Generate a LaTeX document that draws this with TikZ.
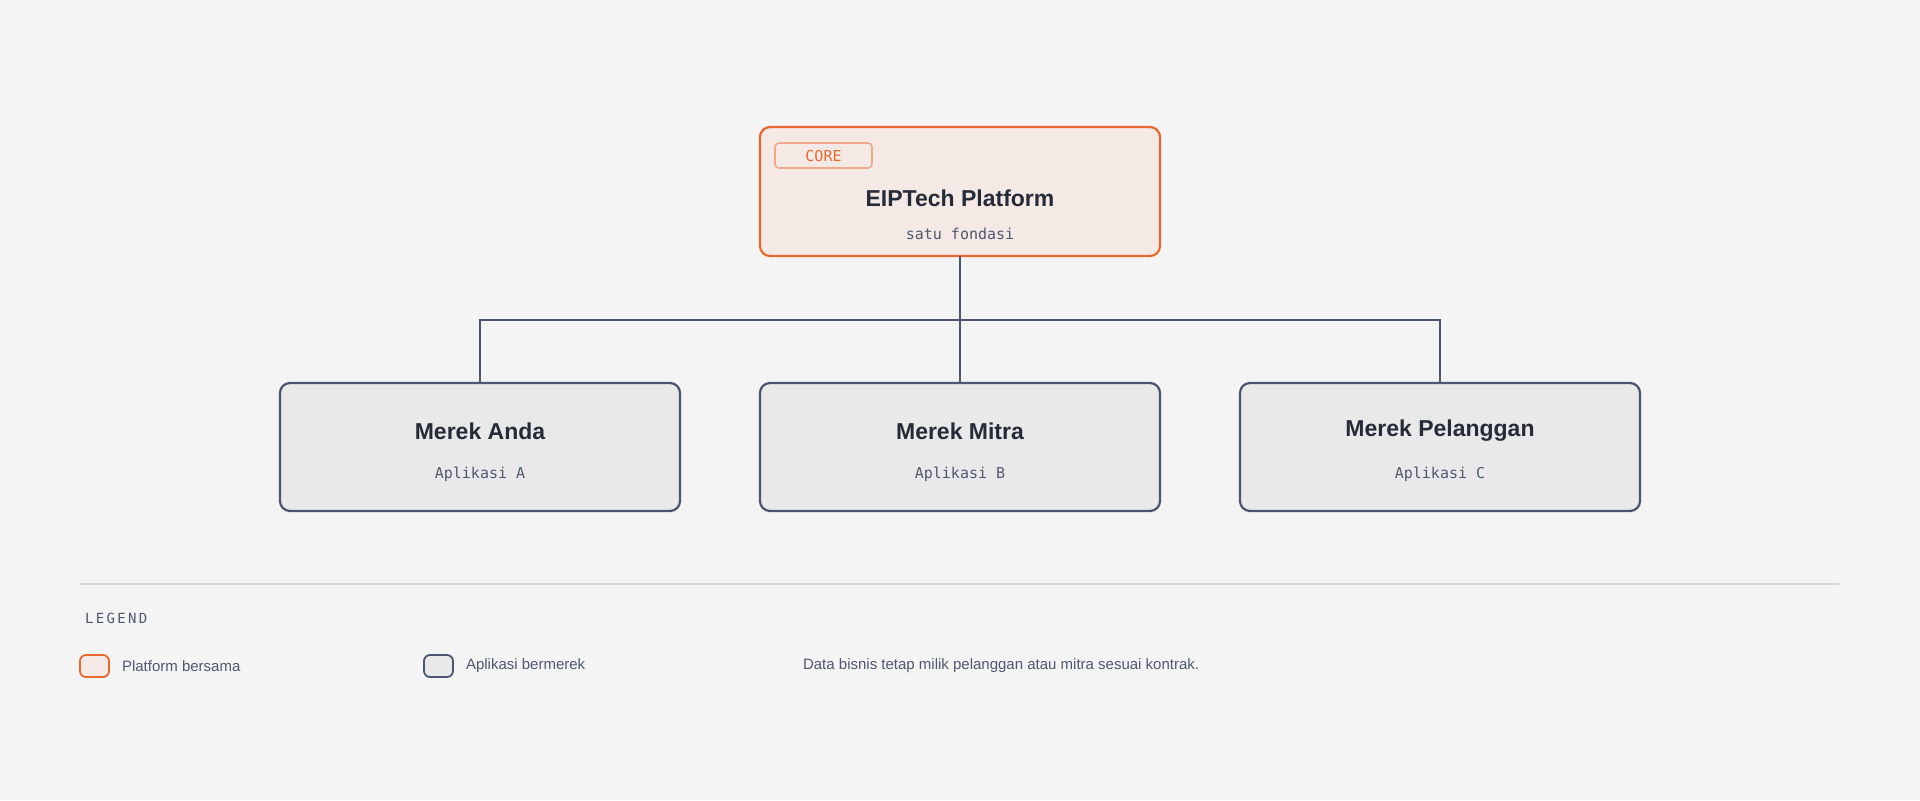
\documentclass[tikz,border=0pt]{standalone}
\usepackage{fontspec}
\setmainfont{Liberation Sans}
\setmonofont{DejaVu Sans Mono}
\begin{document}
\definecolor{bg}{HTML}{F4F4F4}
\definecolor{org}{HTML}{E8692F}
\definecolor{orgfill}{HTML}{F4E9E4}
\definecolor{orgtag}{HTML}{F0A988}
\definecolor{gfill}{HTML}{E9E9EA}
\definecolor{slate}{HTML}{4A5570}
\definecolor{ink}{HTML}{262B38}
\definecolor{sub}{HTML}{4F5870}
\begin{tikzpicture}[x=0.5pt,y=-0.5pt,
  box/.style={draw=slate,fill=gfill,line width=1.1pt,rounded corners=5pt},
  core/.style={draw=org,fill=orgfill,line width=1.1pt,rounded corners=5pt},
  ttl/.style={font=\fontsize{11.5}{13}\selectfont\bfseries,text=ink},
  st/.style={font=\ttfamily\fontsize{7.5}{9}\selectfont,text=sub},
  lg/.style={font=\fontsize{7.5}{9}\selectfont,text=sub,anchor=west},
  wire/.style={draw=slate,line width=0.8pt}]
\fill[bg] (0,0) rectangle (1920,800);
\useasboundingbox (0,0) rectangle (1920,800);
% core
\draw[core] (760,127) rectangle (1160,256);
\coordinate (coreB) at (960,256);
\draw[draw=orgtag,line width=0.8pt,rounded corners=2pt] (775,143) rectangle (872,168);
\node[font=\ttfamily\fontsize{7.5}{9}\selectfont,text=org] (tag) at (823.5,156) {CORE};
\node[ttl] (ct) at (960,198) {EIPTech Platform};
\node[st] (cs) at (960,234) {satu fondasi};
% apps
\foreach \n/\x/\t/\s in {a/480/Merek Anda/Aplikasi A,b/960/Merek Mitra/Aplikasi B,c/1440/Merek Pelanggan/Aplikasi C}{
  \draw[box] (\x-200,383) rectangle (\x+200,511);
  \coordinate (\n T) at (\x,383);
  \node[ttl] (\n t) at (\x,431) {\t};
  \node[st] (\n s) at (\x,474) {\s};
}
\coordinate (bus) at (960,320);
\draw[wire] (coreB) -- (bus);
\draw[wire] (aT) |- (bus) -| (cT);
\draw[wire] (bus) -- (bT);
% legend
\draw[draw=black!15,line width=0.6pt] (80,584) -- (1839,584);
\node[anchor=west,font=\ttfamily\fontsize{7}{9}\selectfont,text=sub] (lgt) at (78,618) {L\,E\,G\,E\,N\,D};
\draw[core,line width=0.9pt,rounded corners=3pt] (80,655) rectangle (109,677);
\node[lg] (l1) at (115,666) {Platform bersama};
\draw[box,line width=0.9pt,rounded corners=3pt] (424,655) rectangle (453,677);
\node[lg] (l2) at (459,666) {Aplikasi bermerek};
\node[lg] (l3) at (796,666) {Data bisnis tetap milik pelanggan atau mitra sesuai kontrak.};
\end{tikzpicture}
\end{document}
